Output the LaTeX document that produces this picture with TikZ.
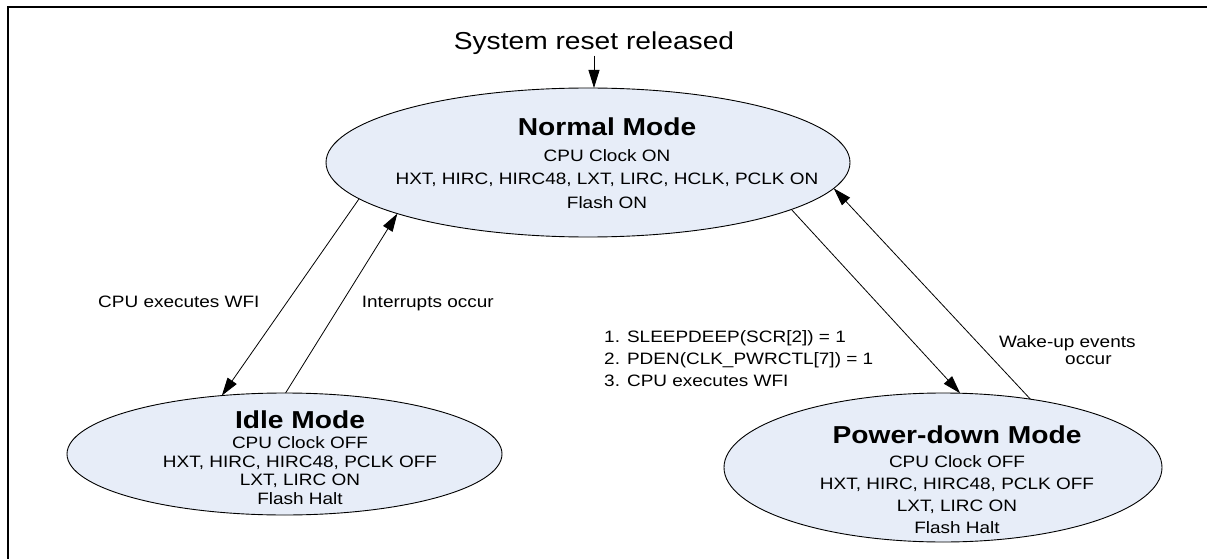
\documentclass[tikz,border=0pt]{standalone}
\usepackage{fontspec}
\setmainfont{Liberation Sans}[FakeStretch=1.15]
\usetikzlibrary{arrows.meta,shapes.geometric}
\definecolor{modefill}{RGB}{231,237,248}
\tikzset{
  mode/.style={ellipse, draw, fill=modefill, line width=0.9pt, inner sep=0pt, outer sep=0pt},
  modetext/.style={align=center, anchor=base, inner sep=0pt},
  note/.style={anchor=base west, inner sep=0pt, font=\fontsize{16.5}{22}\selectfont},
  trans/.style={-{Triangle[length=18pt,width=11pt]}, line width=0.8pt},
}
\newcommand{\modetitle}[1]{{\fontsize{24.5}{28}\selectfont\bfseries #1}}
\begin{document}
\begin{tikzpicture}[x=1pt,y=1pt]
  \useasboundingbox (0,0) rectangle (1207,558);
  \draw[line width=2pt] (8,-20) rectangle (1230,551);
  % the three modes
  \node[mode, minimum width=524pt, minimum height=149pt] (normal) at (588,395.5) {};
  \node[mode, minimum width=435pt, minimum height=122pt] (idle) at (284.5,104) {};
  \node[mode, minimum width=438pt, minimum height=149pt] (pd) at (943,90.5) {};
  \node[modetext, font=\fontsize{16.5}{23.5}\selectfont] (normal text) at (607,350)
    {\modetitle{Normal Mode}\\[2pt]CPU Clock ON\\HXT, HIRC, HIRC48, LXT, LIRC, HCLK, PCLK ON\\Flash ON};
  \node[modetext, font=\fontsize{16.5}{18.5}\selectfont] (idle text) at (300,54)
    {\modetitle{Idle Mode}\\[2pt]CPU Clock OFF\\HXT, HIRC, HIRC48, PCLK OFF\\LXT, LIRC ON\\Flash Halt};
  \node[modetext, font=\fontsize{16.5}{21.7}\selectfont] (pd text) at (957,25)
    {\modetitle{Power-down Mode}\\[3pt]CPU Clock OFF\\HXT, HIRC, HIRC48, PCLK OFF\\LXT, LIRC ON\\Flash Halt};
  % labels
  \node[anchor=base, inner sep=1pt, font=\fontsize{24.5}{28}\selectfont] (reset) at (594,508.7) {System reset released};
  \node[note] (wfi label) at (98,250.4) {CPU executes WFI};
  \node[note] (irq label) at (361.7,250.4) {Interrupts occur};
  \node[note, align=left] (pd steps) at (604,171.3)
    {1. SLEEPDEEP(SCR[2]) = 1\\2. PDEN(CLK\_PWRCTL[7]) = 1\\3. CPU executes WFI};
  \node[note, align=left, font=\fontsize{16.5}{16.5}\selectfont] (wake label) at (999,194)
    {Wake-up events\\\hspace*{66pt}occur};
  % transitions
  \draw[trans] (reset.south) -- (reset.south |- normal.north);
  \draw[trans] (normal.189) -- (idle.137);
  \draw[trans] (idle.89) -- (normal.195);
  \draw[trans] (normal.347) -- (pd.77);
  \draw[trans] (pd.38) -- (normal.354);
\end{tikzpicture}
\end{document}
